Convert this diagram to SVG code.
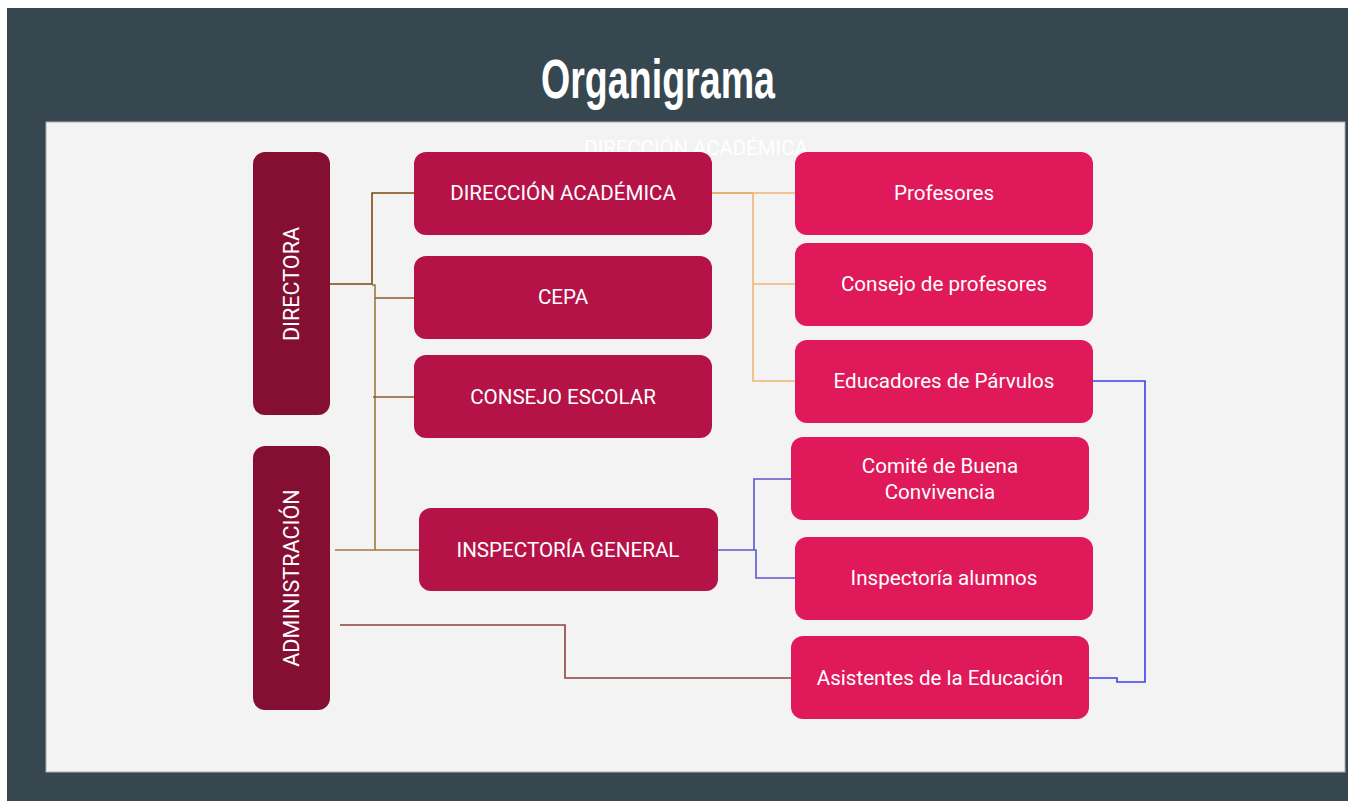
<svg xmlns="http://www.w3.org/2000/svg" width="1348" height="801" viewBox="0 0 1348 801">
<style>
.t{font-family:Roboto,"Liberation Sans",sans-serif;font-size:20.6px;fill:#ffffff;text-anchor:middle;dominant-baseline:central}
.v{font-size:21.6px}
.c{fill:none;stroke-width:1.6}
.dk{fill:#840F33}
.md{fill:#B51348}
.lt{fill:#E0195A}
</style>
<rect x="0" y="0" width="1348" height="801" fill="#ffffff"/>
<rect x="7" y="8" width="1341" height="793" fill="#37474F"/>
<rect x="46" y="122" width="1299" height="650" fill="#F3F3F3" stroke="#B0B0B0" stroke-width="1"/>
<text x="658" y="98" font-family="'Liberation Sans',sans-serif" font-size="56" font-weight="bold" fill="#ffffff" text-anchor="middle" textLength="234" lengthAdjust="spacingAndGlyphs">Organigrama</text>
<text x="696" y="155" font-family="Roboto,sans-serif" font-size="20.4" fill="#ffffff" text-anchor="middle">DIRECCIÓN ACADÉMICA</text>
<g id="connectors">
<path class="c" stroke="#7B4A12" d="M330,284 H372 V193 H414"/>
<path class="c" stroke="#A07840" d="M372,285 H375 V550"/>
<path class="c" stroke="#8B5A2B" d="M375,298 H414"/>
<path class="c" stroke="#8B5A2B" d="M373,397 H414"/>
<path class="c" stroke="#A07840" d="M335,550 H419"/>
<path class="c" stroke="#8E4040" d="M340,625 H565 V678 H791"/>
<path class="c" stroke="#E89A3C" d="M712,193 H753"/>
<path class="c" stroke="#F0B574" d="M753,193 H795 M753,193 V381 H795 M753,284 H795"/>
<path class="c" stroke="#5B55D0" d="M718,550 H754 V479 H791 M754,550 H756 V578 H795"/>
<path class="c" stroke="#3F3FF0" d="M1093,381 H1145 V682 H1117 V678 H1089"/>
</g>
<g id="n-directora"><rect class="dk" x="253" y="152" width="77" height="263" rx="12"/><text class="t v" transform="translate(291,284) rotate(-90)">DIRECTORA</text></g>
<g id="n-administracion"><rect class="dk" x="253" y="446" width="77" height="264" rx="12"/><text class="t v" transform="translate(291,578) rotate(-90)">ADMINISTRACIÓN</text></g>
<g id="n-direccion"><rect class="md" x="414" y="152" width="298" height="83" rx="12"/><text class="t" x="563" y="193">DIRECCIÓN ACADÉMICA</text></g>
<g id="n-cepa"><rect class="md" x="414" y="256" width="298" height="83" rx="12"/><text class="t" x="563" y="297">CEPA</text></g>
<g id="n-consejo-escolar"><rect class="md" x="414" y="355" width="298" height="83" rx="12"/><text class="t" x="563" y="397">CONSEJO ESCOLAR</text></g>
<g id="n-inspectoria-general"><rect class="md" x="419" y="508" width="299" height="83" rx="12"/><text class="t" x="568" y="550">INSPECTORÍA GENERAL</text></g>
<g id="n-profesores"><rect class="lt" x="795" y="152" width="298" height="83" rx="12"/><text class="t" x="944" y="193">Profesores</text></g>
<g id="n-consejo-profesores"><rect class="lt" x="795" y="243" width="298" height="83" rx="12"/><text class="t" x="944" y="284">Consejo de profesores</text></g>
<g id="n-educadores"><rect class="lt" x="795" y="340" width="298" height="83" rx="12"/><text class="t" x="944" y="381">Educadores de Párvulos</text></g>
<g id="n-comite"><rect class="lt" x="791" y="437" width="298" height="83" rx="12"/><text class="t" x="940" y="466">Comité de Buena</text><text class="t" x="940" y="492">Convivencia</text></g>
<g id="n-inspectoria-alumnos"><rect class="lt" x="795" y="537" width="298" height="83" rx="12"/><text class="t" x="944" y="578">Inspectoría alumnos</text></g>
<g id="n-asistentes"><rect class="lt" x="791" y="636" width="298" height="83" rx="12"/><text class="t" x="940" y="678">Asistentes de la Educación</text></g>
</svg>
